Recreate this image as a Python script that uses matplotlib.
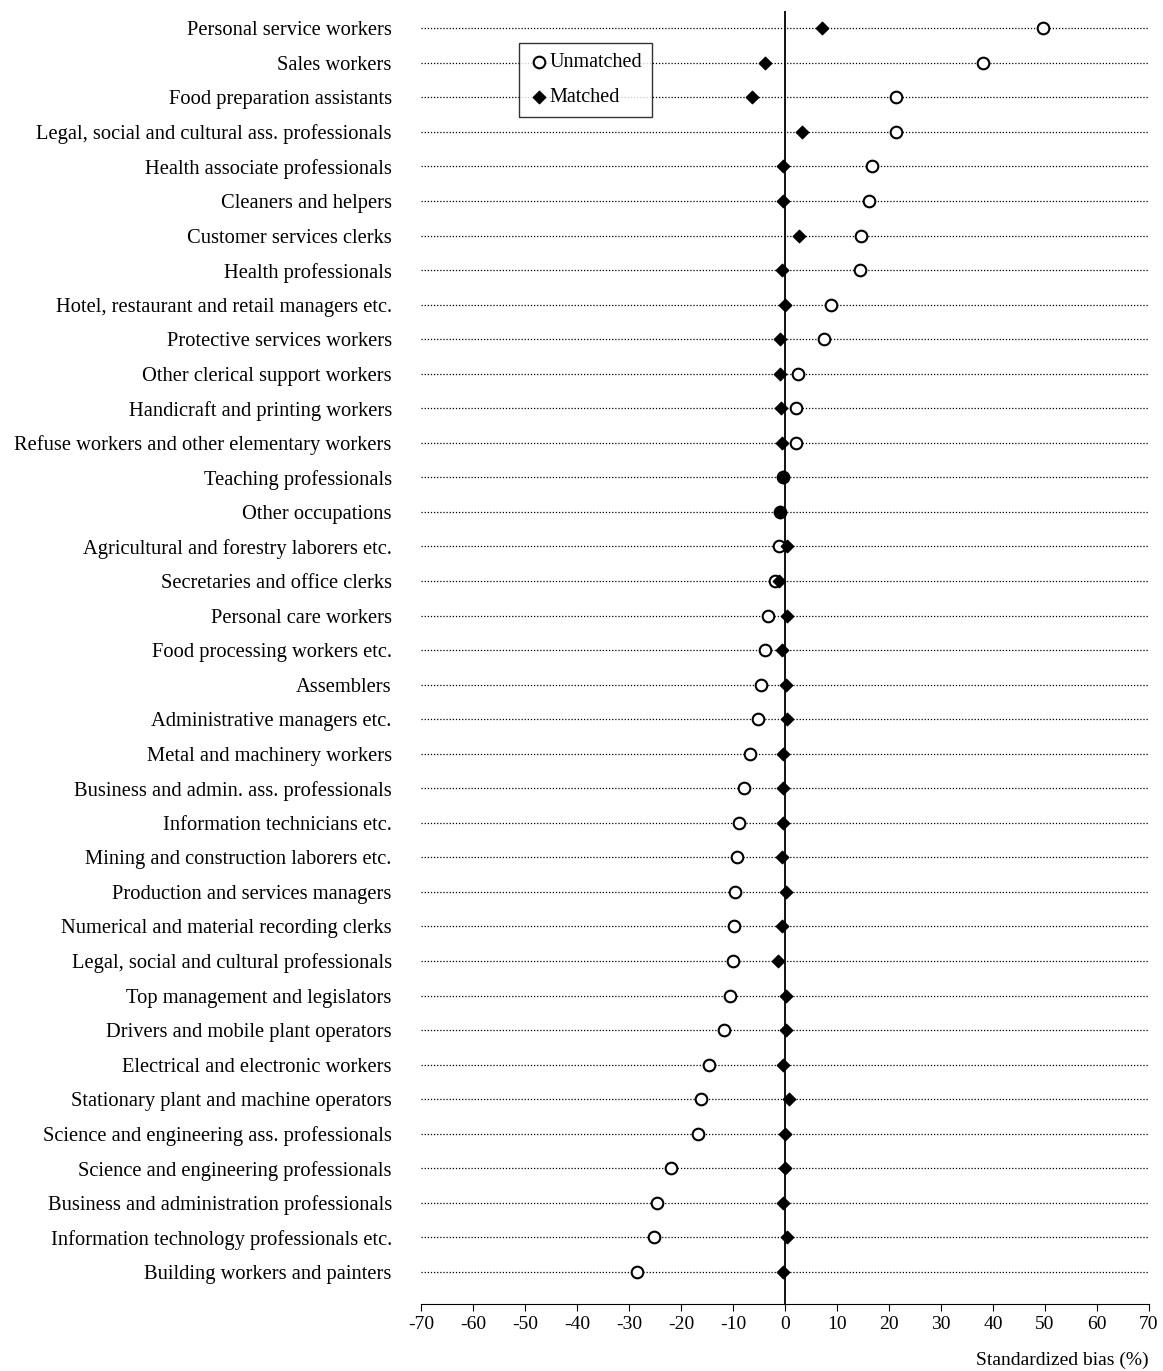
import matplotlib
matplotlib.use("Agg")
import matplotlib.pyplot as plt
import numpy as np

plt.rcParams['font.family'] = ['Liberation Serif', 'DejaVu Serif']

categories = ["Personal service workers","Sales workers","Food preparation assistants",
"Legal, social and cultural ass. professionals","Health associate professionals","Cleaners and helpers",
"Customer services clerks","Health professionals","Hotel, restaurant and retail managers etc.",
"Protective services workers","Other clerical support workers","Handicraft and printing workers",
"Refuse workers and other elementary workers","Teaching professionals","Other occupations",
"Agricultural and forestry laborers etc.","Secretaries and office clerks","Personal care workers",
"Food processing workers etc.","Assemblers","Administrative managers etc.","Metal and machinery workers",
"Business and admin. ass. professionals","Information technicians etc.","Mining and construction laborers etc.",
"Production and services managers","Numerical and material recording clerks","Legal, social and cultural professionals",
"Top management and legislators","Drivers and mobile plant operators","Electrical and electronic workers",
"Stationary plant and machine operators","Science and engineering ass. professionals","Science and engineering professionals",
"Business and administration professionals","Information technology professionals etc.","Building workers and painters"]
unmatched = [49.6,38.1,21.3,21.3,16.7,16.2,14.6,14.4,8.8,7.5,2.5,2.1,2.1,-0.4,-1.0,-1.2,-1.9,-3.3,-3.8,-4.6,-5.2,-6.7,-7.9,-8.8,-9.2,-9.6,-9.8,-10.0,-10.6,-11.7,-14.6,-16.2,-16.7,-21.9,-24.6,-25.2,-28.5]
matched = [7.1,-3.8,-6.3,3.3,-0.4,-0.4,2.7,-0.6,0.0,-1.0,-1.0,-0.8,-0.6,-0.4,-1.0,0.4,-1.2,0.4,-0.6,0.2,0.4,-0.4,-0.4,-0.4,-0.6,0.2,-0.6,-1.3,0.2,0.2,-0.4,0.8,0.0,0.0,-0.4,0.4,-0.4]
xticks = list(range(-70, 71, 10))

fig = plt.figure(figsize=(11.63, 13.71), dpi=100)
ax = fig.add_axes([421/1163, 1-1304/1371, 728/1163, (1304-11)/1371])
y = np.arange(len(categories))
for yi in y:
    ax.plot([-70, 70], [yi, yi], color='black', lw=0.9, ls=(0, (1, 1.5)), zorder=1)
ax.axvline(0, color='black', lw=1.3, zorder=2)
ax.scatter(unmatched, y, marker='o', s=70, facecolors='white', edgecolors='black', linewidths=1.5, zorder=3, label='Unmatched')
ax.scatter(matched, y, marker='D', s=40, color='black', zorder=4, label='Matched')
ax.set_xlim(-70, 70)
ax.set_ylim(len(categories) - 1 + 0.93, -0.5)
ax.set_yticks(y)
ax.set_yticklabels(categories, fontsize=14.8)
ax.tick_params(axis='y', length=0, pad=21)
ax.set_xticks(xticks)
ax.set_xticklabels([str(t) for t in xticks], fontsize=14)
ax.tick_params(axis='x', direction='out', length=5)
for s in ['left', 'right', 'top']:
    ax.spines[s].set_visible(False)
ax.text(1.0, -0.037, 'Standardized bias (%)', transform=ax.transAxes, ha='right', va='top', fontsize=14)
leg = ax.legend(loc='upper left', bbox_to_anchor=(98/728, 1-32/1293), fontsize=14.5, frameon=True,
                fancybox=False, edgecolor='black', handletextpad=0.0, borderpad=0.5, labelspacing=0.8,
                handlelength=1.0, borderaxespad=0)
leg.get_frame().set_linewidth(1.0)
fig.savefig('out.png', dpi=100)
